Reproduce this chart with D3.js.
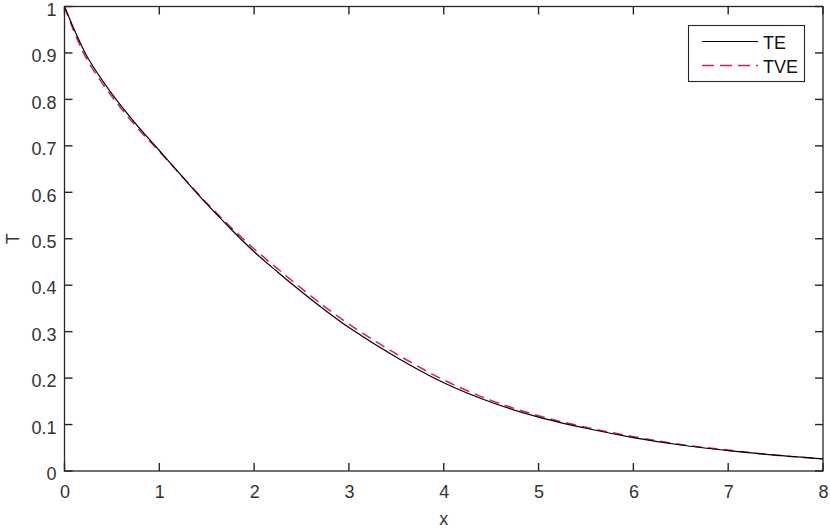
<!DOCTYPE html>
<html><head><meta charset="utf-8">
<script src="https://cdn.jsdelivr.net/npm/d3@7"></script>
<style>body{margin:0;background:#fff}svg{display:block}text{font-family:"Liberation Sans",Arial,sans-serif}</style>
</head><body>
<svg id="c" width="830" height="530"></svg>
<script>
const xs      = [0,0.125,0.25,0.5,0.75,1,1.25,1.5,1.75,2,2.25,2.5,2.75,3,3.5,4,4.5,5,5.5,6,6.5,7,7.5,8];
const teVals  = [1.0,0.940,0.888,0.812,0.748,0.690,0.632,0.575,0.522,0.472,0.428,0.386,0.346,0.309,0.245,0.190,0.148,0.116,0.092,0.072,0.056,0.044,0.034,0.026];
const tveVals = [1.0,0.934,0.881,0.806,0.743,0.688,0.632,0.577,0.526,0.478,0.435,0.393,0.353,0.316,0.252,0.196,0.152,0.119,0.094,0.074,0.057,0.045,0.034,0.026];
const xTicks = [0,1,2,3,4,5,6,7,8];
const yTicks = [0,0.1,0.2,0.3,0.4,0.5,0.6,0.7,0.8,0.9,1];
const seriesNames = ["TE","TVE"];

const svg = d3.select("#c");
const L=64.5, R=823, T=6.5, B=471;
const x = d3.scaleLinear().domain([0,8]).range([L,R]);
const y = d3.scaleLinear().domain([0,1]).range([B,T]);
const axCol = "#262626";
const txtCol = "#333";
const fs = 18;

// curves
const line = d3.line().x(d=>x(d[0])).y(d=>y(d[1])).curve(d3.curveCatmullRom.alpha(0.5));
svg.append("path").datum(xs.map((v,i)=>[v,tveVals[i]])).attr("d",line)
  .attr("fill","none").attr("stroke","#dc1f4a").attr("stroke-width",1.5).attr("stroke-dasharray","10,6");
svg.append("path").datum(xs.map((v,i)=>[v,teVals[i]])).attr("d",line)
  .attr("fill","none").attr("stroke","#000").attr("stroke-width",1.2);

// ticks as small filled rects placed by the scales
const tg = svg.append("g").attr("fill",axCol);
tg.selectAll("rect.xb").data(xTicks).join("rect").attr("class","xb")
  .attr("x",d=>x(d)-0.7).attr("y",B-8).attr("width",1.4).attr("height",8);
tg.selectAll("rect.xt").data(xTicks).join("rect").attr("class","xt")
  .attr("x",d=>x(d)-0.7).attr("y",T).attr("width",1.4).attr("height",8);
tg.selectAll("rect.yl").data(yTicks).join("rect").attr("class","yl")
  .attr("x",L).attr("y",d=>y(d)-0.7).attr("width",8).attr("height",1.4);
tg.selectAll("rect.yr").data(yTicks).join("rect").attr("class","yr")
  .attr("x",R-8).attr("y",d=>y(d)-0.7).attr("width",8).attr("height",1.4);

// tick labels via axes
const fmt = d=>String(+d.toFixed(1));
const clean = (g)=>{g.selectAll(".domain").remove(); g.selectAll("line").remove();};
svg.append("g").attr("transform",`translate(0,${B})`)
  .call(d3.axisBottom(x).tickValues(xTicks).tickSize(0).tickPadding(14).tickFormat(fmt))
  .call(clean).selectAll("text").attr("font-size",fs).attr("fill",txtCol).attr("font-family","Liberation Sans, Arial");
svg.append("g").attr("transform",`translate(${L},3)`)
  .call(d3.axisLeft(y).tickValues(yTicks).tickSize(0).tickPadding(8).tickFormat(fmt))
  .call(clean).selectAll("text").attr("font-size",fs).attr("fill",txtCol).attr("font-family","Liberation Sans, Arial");

svg.append("rect").attr("x",L).attr("y",T).attr("width",R-L).attr("height",B-T)
  .attr("fill","none").attr("stroke",axCol).attr("stroke-width",1.3);

// axis labels
svg.append("text").attr("x",(L+R)/2).attr("y",525).attr("text-anchor","middle")
  .attr("font-size",fs).attr("fill",txtCol).text("x");
svg.append("text").attr("transform",`translate(18.5,${(T+B)/2}) rotate(-90)`).attr("text-anchor","middle")
  .attr("font-size",fs).attr("fill",txtCol).text("T");

// legend
const lg = svg.append("g");
lg.append("rect").attr("x",688.5).attr("y",25.5).attr("width",116).attr("height",56)
  .attr("fill","#fff").attr("stroke",axCol).attr("stroke-width",1.1);
const styles = [{c:"#000",d:null,w:1.2},{c:"#dc1f4a",d:"12,6",w:1.5}];
seriesNames.forEach((n,i)=>{
  const yy = 41.5 + i*24;
  lg.append("line").attr("x1",702).attr("x2",758).attr("y1",yy).attr("y2",yy)
    .attr("stroke",styles[i].c).attr("stroke-width",styles[i].w).attr("stroke-dasharray",styles[i].d);
  lg.append("text").attr("x",763).attr("y",yy+7).attr("font-size",fs).attr("fill","#111").text(n);
});
</script>
</body></html>
